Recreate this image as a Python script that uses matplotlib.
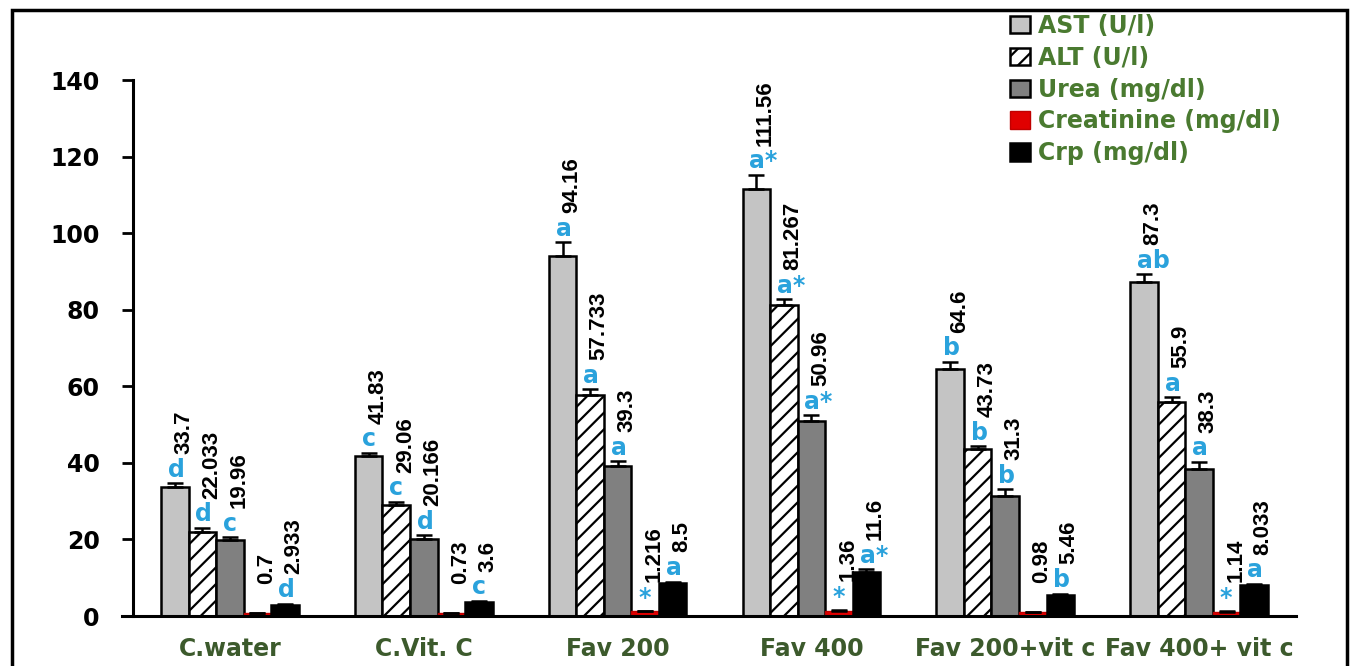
import matplotlib
matplotlib.use("Agg")
import numpy as np
import matplotlib.pyplot as plt
from matplotlib.patches import Rectangle

# Data
groups = ["C.water", "C.Vit. C", "Fav 200", "Fav 400", "Fav 200+vit c", "Fav 400+ vit c"]
series_names = ["AST (U/l)", "ALT (U/l)", "Urea (mg/dl)", "Creatinine (mg/dl)", "Crp (mg/dl)"]

ast_vals = [33.7, 41.83, 94.16, 111.56, 64.6, 87.3]
alt_vals = [22.033, 29.06, 57.733, 81.267, 43.73, 55.9]
urea_vals = [19.96, 20.166, 39.3, 50.96, 31.3, 38.3]
creat_vals = [0.7, 0.73, 1.216, 1.36, 0.98, 1.14]
crp_vals = [2.933, 3.6, 8.5, 11.6, 5.46, 8.033]

ast_err = [1.0, 0.8, 3.5, 3.7, 1.8, 2.0]
alt_err = [1.0, 0.8, 1.5, 1.5, 0.6, 1.2]
urea_err = [0.6, 1.0, 1.2, 1.5, 1.8, 2.0]
creat_err = [0.05, 0.05, 0.1, 0.1, 0.05, 0.05]
crp_err = [0.3, 0.4, 0.5, 0.6, 0.4, 0.4]

ast_letters = ["d", "c", "a", "a*", "b", "ab"]
alt_letters = ["d", "c", "a", "a*", "b", "a"]
urea_letters = ["c", "d", "a", "a*", "b", "a"]
creat_letters = ["", "", "*", "*", "", "*"]
crp_letters = ["d", "c", "a", "a*", "b", "a"]

value_text = [
    ["33.7", "41.83", "94.16", "111.56", "64.6", "87.3"],
    ["22.033", "29.06", "57.733", "81.267", "43.73", "55.9"],
    ["19.96", "20.166", "39.3", "50.96", "31.3", "38.3"],
    ["0.7", "0.73", "1.216", "1.36", "0.98", "1.14"],
    ["2.933", "3.6", "8.5", "11.6", "5.46", "8.033"],
]

values = [ast_vals, alt_vals, urea_vals, creat_vals, crp_vals]
errors = [ast_err, alt_err, urea_err, creat_err, crp_err]
letters = [ast_letters, alt_letters, urea_letters, creat_letters, crp_letters]

# Styles
face = ["#c4c4c4", "white", "#808080", "#e00000", "black"]
edge = ["black", "black", "black", "#c00000", "black"]
hatch = [None, "//", None, None, None]
blue = "#2aa2dc"
green = "#4a7a30"

plt.rcParams["hatch.linewidth"] = 1.6

fig = plt.figure(figsize=(13.52, 6.66), dpi=100)
ax = fig.add_axes([133 / 1352, 1 - 616 / 666, (1296 - 133) / 1352, (616 - 80) / 666])

x = np.arange(len(groups))
w = 0.142

for i in range(len(series_names)):
    xpos = x + (i - 2) * w
    ax.bar(xpos, values[i], w, color=face[i], edgecolor=edge[i],
           linewidth=1.8 if i != 3 else 1.0, hatch=hatch[i], label=series_names[i], zorder=2)
    ax.errorbar(xpos, values[i], yerr=[np.zeros(len(groups)), errors[i]], fmt="none",
                ecolor="black", elinewidth=1.8, capsize=6, capthick=1.8, zorder=3)
    for j in range(len(groups)):
        top = values[i][j] + errors[i][j]
        ax.annotate(letters[i][j], (xpos[j], top), xytext=(-5, 1), textcoords="offset points",
                    ha="left", va="bottom", color=blue, fontsize=17, fontweight="bold")
        ax.annotate(value_text[i][j], (xpos[j], top), xytext=(6.5, 21), textcoords="offset points",
                    ha="center", va="bottom", rotation=90, fontsize=16, fontweight="bold",
                    family="Liberation Sans", annotation_clip=False)

# Axes
ax.set_xlim(-0.5, 5.5)
ax.set_ylim(0, 140)
ax.set_yticks(np.arange(0, 141, 20))
ax.set_xticks(x)
ax.set_xticklabels(groups, color="#3c5a2c", fontsize=17, fontweight="bold")
ax.tick_params(axis="x", length=0, pad=15)
ax.tick_params(axis="y", length=8, width=2, pad=16, labelsize=17)
for lab in ax.get_yticklabels():
    lab.set_fontweight("bold")
ax.spines["top"].set_visible(False)
ax.spines["right"].set_visible(False)
ax.spines["left"].set_linewidth(2.2)
ax.spines["bottom"].set_linewidth(2.2)
ax.spines["bottom"].set_bounds(-0.555, 5.5)

leg = ax.legend(loc="upper left", bbox_to_anchor=(1010 / 1352, 1 - 14 / 666),
                bbox_transform=fig.transFigure, frameon=False, fontsize=17,
                handlelength=0.85, handleheight=0.75, handletextpad=0.35,
                labelspacing=0.33, borderpad=0, borderaxespad=0)
for t in leg.get_texts():
    t.set_color(green)
    t.set_fontweight("bold")

# Frame around the picture
fig.add_artist(Rectangle((12 / 1352, -0.05), (1347 - 12) / 1352, 1.05 - 10 / 666,
                         transform=fig.transFigure, fill=False, linewidth=2.5,
                         edgecolor="black", clip_on=False))

fig.savefig("out.png", dpi=100, facecolor="white")
